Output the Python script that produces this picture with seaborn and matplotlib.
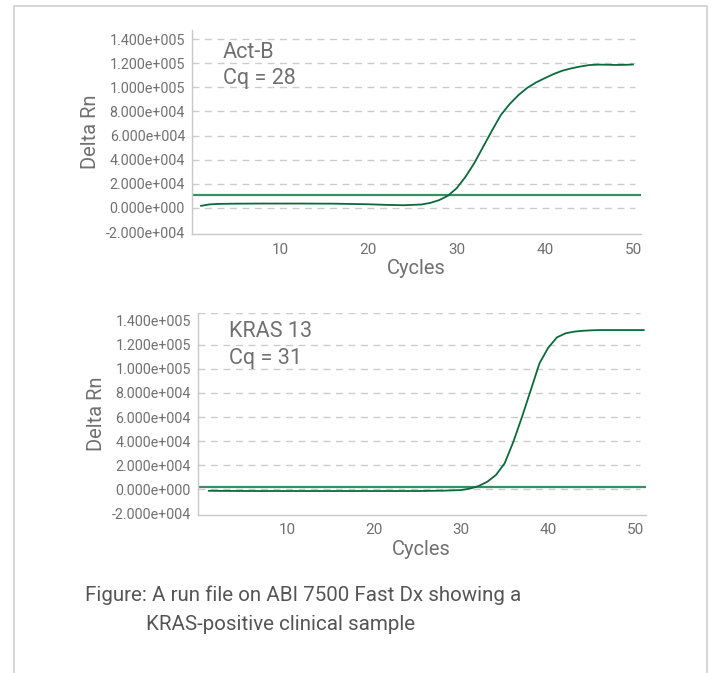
import matplotlib
matplotlib.use("Agg")
import matplotlib.pyplot as plt
import seaborn as sns
import pandas as pd
from matplotlib.ticker import FuncFormatter

# Act-B amplification curve (cycle, delta Rn)
actb_cycles = [1, 2, 3, 5, 8, 12, 16, 20, 22, 24, 26, 27, 28, 29, 30, 31, 32, 33,
               34, 35, 36, 37, 38, 39, 40, 41, 42, 43, 44, 45, 46, 47, 48, 49, 50]
actb_rn = [1700, 2900, 3300, 3500, 3600, 3600, 3500, 3000, 2500, 2200, 2800, 4100,
           6400, 10000, 16300, 25700, 37100, 50600, 64000, 76900, 86000, 93500,
           99500, 104000, 107600, 111000, 113800, 115700, 117200, 118400, 118800,
           118700, 118500, 118600, 118900]
actb_threshold = 10800

# KRAS 13 amplification curve
kras_cycles = [1, 3, 6, 10, 15, 20, 25, 28, 30, 31, 32, 33, 34, 35, 36, 37, 38,
               39, 40, 41, 42, 43, 44, 45, 46, 48, 51]
kras_rn = [-1200, -1300, -1400, -1400, -1400, -1400, -1400, -1100, -600, 600,
           2700, 6300, 11900, 21600, 39500, 60300, 82400, 104600, 117500, 126100,
           129500, 130900, 131600, 132000, 132200, 132200, 132200]
kras_threshold = 1800

y_ticks = [-20000, 0, 20000, 40000, 60000, 80000, 100000, 120000, 140000]
x_ticks = [10, 20, 30, 40, 50]

curve_color = "#0b6a3c"
thr_color = "#3a8f63"
grid_color = "#cccccc"
text_color = "#707070"

sns.set_style("white")
plt.rcParams["font.family"] = ["Roboto", "DejaVu Sans"]

fig = plt.figure(figsize=(7.14, 6.73), dpi=100)

# frame around the figure panel (open at the bottom)
fig.add_artist(plt.Line2D([14 / 714, 14 / 714], [0, 1 - 6 / 673], color="#cfcfcf", lw=1.2))
fig.add_artist(plt.Line2D([707 / 714, 707 / 714], [0, 1 - 6 / 673], color="#cfcfcf", lw=1.2))
fig.add_artist(plt.Line2D([14 / 714, 707 / 714], [1 - 6 / 673, 1 - 6 / 673], color="#cfcfcf", lw=1.2))

ax1 = fig.add_axes([192 / 714, 1 - 234.3 / 673, 449 / 714, 204.3 / 673])
ax2 = fig.add_axes([197.7 / 714, 1 - 515 / 673, 448 / 714, 202.3 / 673])

panels = [
    (ax1, actb_cycles, actb_rn, actb_threshold, "Act-B", "Cq = 28",
     (0, 50.9), (-21900, 147500), 50.2, y_ticks, (0.892, 0.765)),
    (ax2, kras_cycles, kras_rn, kras_threshold, "KRAS 13", "Cq = 31",
     (-0.26, 51.2), (-21300, 146600), 50.6, y_ticks[:-1] + [146600], (0.905, 0.772)),
]


def sci_label(v, pos=None):
    if v == 0:
        return "0.000e+000"
    exp = 0
    m = abs(v)
    while m >= 10:
        m /= 10
        exp += 1
    sign = "-" if v < 0 else ""
    return "%s%.3fe+%03d" % (sign, m, exp)


for ax, cx, cy, thr, name, cq, xlim, ylim, grid_end, grid_levels, ty in panels:
    df = pd.DataFrame({"Cycles": cx, "Delta Rn": cy})
    for g in grid_levels:
        if g == -20000:
            continue
        ax.plot([xlim[0], grid_end], [g, g], color=grid_color, lw=1.0,
                ls=(0, (5, 4)), zorder=1)
    ax.axhline(thr, color=thr_color, lw=1.6, zorder=2)
    sns.lineplot(data=df, x="Cycles", y="Delta Rn", ax=ax, color=curve_color,
                 lw=1.3, zorder=3)
    ax.set_xlim(*xlim)
    ax.set_ylim(*ylim)
    ax.set_xticks(x_ticks)
    ax.set_yticks(y_ticks)
    ax.yaxis.set_major_formatter(FuncFormatter(sci_label))
    ax.tick_params(axis="y", length=3, color="#c8c8c8", labelsize=10.3,
                   labelcolor=text_color, pad=2)
    ax.tick_params(axis="x", length=0, labelsize=11, labelcolor=text_color, pad=6)
    for s in ["top", "right"]:
        ax.spines[s].set_visible(False)
    for s in ["left", "bottom"]:
        ax.spines[s].set_color("#c8c8c8")
        ax.spines[s].set_linewidth(1.0)
    ax.set_xlabel("Cycles", fontsize=14.5, color=text_color, labelpad=2)
    ax.set_ylabel("Delta Rn", fontsize=14.5, color=text_color, labelpad=4)
    ax.text(0.069, ty[0], name, transform=ax.transAxes, fontsize=15.5,
            color=text_color, va="center", ha="left")
    ax.text(0.069, ty[1], cq, transform=ax.transAxes, fontsize=15.5,
            color=text_color, va="center", ha="left")

fig.text(85 / 714, 1 - 595 / 673, "Figure: A run file on ABI 7500 Fast Dx showing a",
         fontsize=14.8, color="#555555", va="center", ha="left")
fig.text(146 / 714, 1 - 625 / 673, "KRAS-positive clinical sample",
         fontsize=14.8, color="#555555", va="center", ha="left")

fig.savefig("out.png", dpi=100)
